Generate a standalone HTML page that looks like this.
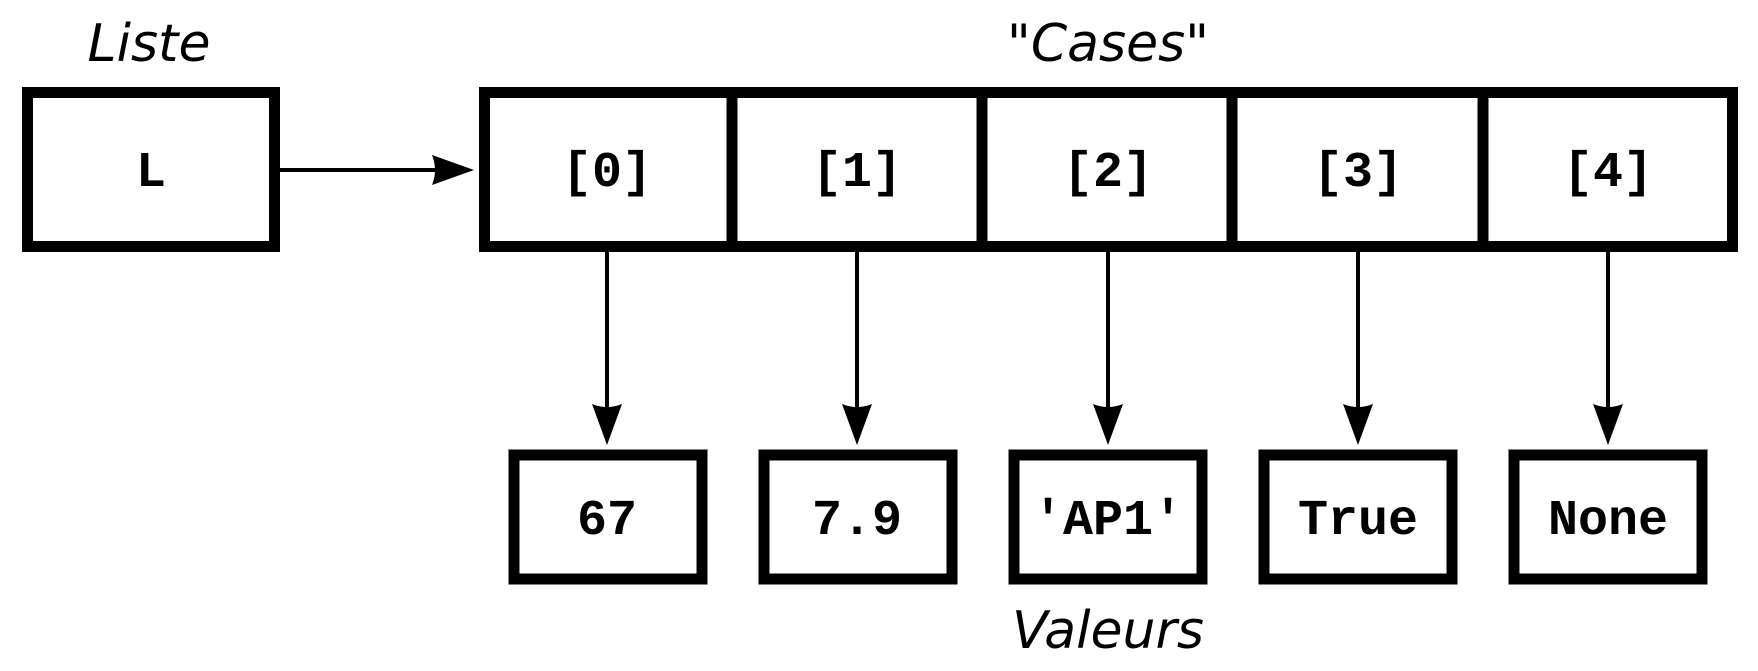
<!DOCTYPE html>
<html><head><meta charset="utf-8"><style>html,body{margin:0;padding:0;background:#fff}svg{display:block}</style></head>
<body>
<svg width="1758" height="671" viewBox="0 0 1758 671" xmlns="http://www.w3.org/2000/svg">
<g fill="none" stroke="#000" stroke-width="11">
<rect x="27.5" y="92.5" width="247" height="154"/>
<rect x="484.5" y="92.5" width="1248" height="154"/>
<line x1="732" y1="88" x2="732" y2="252"/>
<line x1="982" y1="88" x2="982" y2="252"/>
<line x1="1232" y1="88" x2="1232" y2="252"/>
<line x1="1483" y1="88" x2="1483" y2="252"/>
<rect x="514" y="455" width="188" height="124"/>
<rect x="764" y="455" width="188" height="124"/>
<rect x="1014" y="455" width="188" height="124"/>
<rect x="1264" y="455" width="188" height="124"/>
<rect x="1514" y="455" width="188" height="124"/>
</g>
<g stroke="#000" stroke-width="4">
<line x1="280" y1="170" x2="440" y2="170"/>
<line x1="607" y1="252" x2="607" y2="410"/>
<line x1="857" y1="252" x2="857" y2="410"/>
<line x1="1108" y1="252" x2="1108" y2="410"/>
<line x1="1358" y1="252" x2="1358" y2="410"/>
<line x1="1608" y1="252" x2="1608" y2="410"/>
</g>
<g fill="#000">
<path d="M474,170 L432,155 Q438,170 432,185 Z"/>
<path d="M607,445 L592,404 Q607,410 622,404 Z"/>
<path d="M857,445 L842,404 Q857,410 872,404 Z"/>
<path d="M1108,445 L1093,404 Q1108,410 1123,404 Z"/>
<path d="M1358,445 L1343,404 Q1358,410 1373,404 Z"/>
<path d="M1608,445 L1593,404 Q1608,410 1623,404 Z"/>
</g>
<g font-family="'DejaVu Sans','Liberation Sans',sans-serif" font-style="italic" font-size="52" text-anchor="middle" fill="#000">
<text x="149" y="61">Liste</text>
<text x="1108" y="61">"Cases"</text>
<text x="1108" y="648">Valeurs</text>
</g>
<g font-family="'Liberation Mono',monospace" font-weight="bold" font-size="50" text-anchor="middle" fill="#000">
<text x="151" y="186">L</text>
<text x="607" y="186">[0]</text>
<text x="857" y="186">[1]</text>
<text x="1108" y="186">[2]</text>
<text x="1358" y="186">[3]</text>
<text x="1608" y="186">[4]</text>
<text x="607" y="534">67</text>
<text x="857" y="534">7.9</text>
<text x="1108" y="534">'AP1'</text>
<text x="1358" y="534">True</text>
<text x="1608" y="534">None</text>
</g>
</svg>
</body></html>
